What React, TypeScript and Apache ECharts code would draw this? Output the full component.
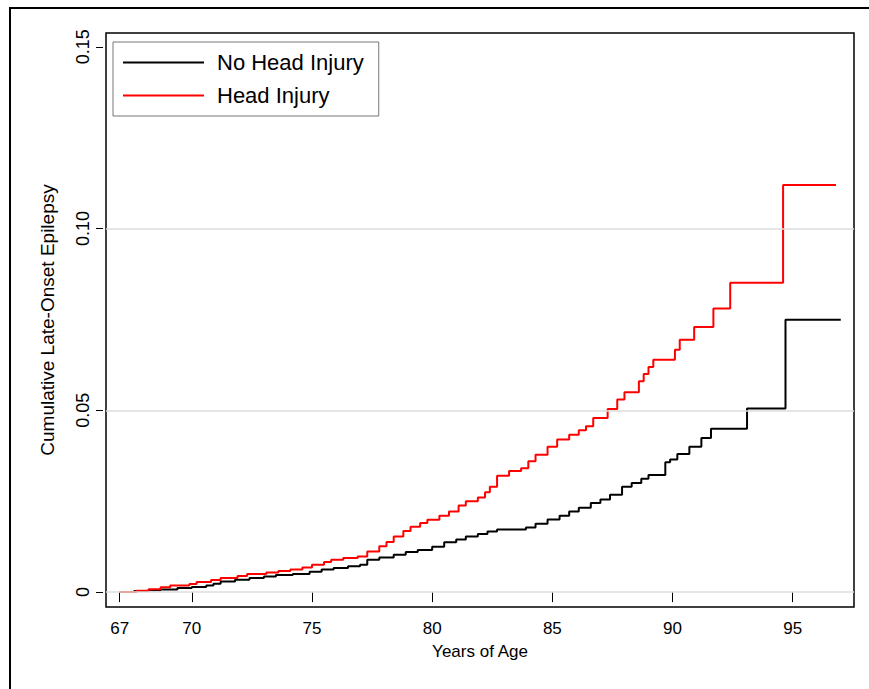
import React, { useEffect, useRef } from "react";
import * as echarts from "echarts";

const xTicks = [67, 70, 75, 80, 85, 90, 95];
const yTicks = [0, 0.05, 0.1, 0.15];
const yTickLabels = ["0", "0.05", "0.10", "0.15"];
const gridLines = [0, 0.05, 0.1];

const seriesNames = ["No Head Injury", "Head Injury"];

// [age, cumulative incidence] - value holds from this age on
const noHeadInjury: [number, number][] = [
  [67.0, 0], [67.6, 0.0003], [68.2, 0.0005], [68.7, 0.0007], [69.4, 0.0011],
  [70.0, 0.0014], [70.6, 0.0018], [70.9, 0.0023], [71.2, 0.0029], [71.8, 0.0034],
  [72.4, 0.0039], [73.0, 0.0043], [73.5, 0.0047], [74.2, 0.005], [74.9, 0.0056],
  [75.4, 0.0062], [75.9, 0.0066], [76.5, 0.0071], [77.0, 0.0075], [77.3, 0.0089],
  [77.8, 0.0095], [78.4, 0.0103], [78.9, 0.011], [79.4, 0.0116], [80.0, 0.0125],
  [80.5, 0.0137], [81.0, 0.0145], [81.4, 0.0153], [81.9, 0.016], [82.3, 0.0167],
  [82.7, 0.0172], [83.9, 0.0178], [84.3, 0.0188], [84.8, 0.02], [85.3, 0.021],
  [85.7, 0.0222], [86.1, 0.0232], [86.6, 0.0245], [87.0, 0.0255], [87.4, 0.0268],
  [87.9, 0.029], [88.3, 0.03], [88.7, 0.0312], [89.0, 0.0322], [89.7, 0.0357],
  [89.9, 0.0365], [90.2, 0.038], [90.7, 0.04], [91.2, 0.0424], [91.6, 0.0449],
  [93.1, 0.0505], [94.7, 0.0749], [97.0, 0.0749],
];

const headInjury: [number, number][] = [
  [67.0, 0], [67.7, 0.0004], [68.2, 0.0008], [68.7, 0.0013], [69.1, 0.0018],
  [69.9, 0.0022], [70.2, 0.0028], [70.8, 0.0033], [71.2, 0.0039], [71.9, 0.0044],
  [72.3, 0.005], [73.1, 0.0054], [73.6, 0.0058], [74.1, 0.0062], [74.6, 0.0068],
  [75.0, 0.0075], [75.5, 0.0083], [75.8, 0.0089], [76.3, 0.0094], [76.9, 0.0098],
  [77.3, 0.0112], [77.8, 0.0126], [78.1, 0.0138], [78.4, 0.0153], [78.8, 0.0168],
  [79.1, 0.018], [79.5, 0.019], [79.8, 0.0199], [80.3, 0.021], [80.7, 0.0222],
  [81.1, 0.0238], [81.4, 0.025], [81.9, 0.026], [82.2, 0.0275], [82.4, 0.029],
  [82.7, 0.032], [83.2, 0.0333], [83.7, 0.0341], [84.0, 0.036], [84.3, 0.0378],
  [84.8, 0.04], [85.2, 0.042], [85.7, 0.0433], [86.1, 0.0445], [86.4, 0.0456],
  [86.7, 0.0479], [87.3, 0.0504], [87.7, 0.053], [88.0, 0.055], [88.6, 0.058],
  [88.8, 0.06], [89.0, 0.0619], [89.2, 0.0639], [90.1, 0.0667], [90.3, 0.0694],
  [90.9, 0.0729], [91.7, 0.078], [92.4, 0.0851], [94.6, 0.112], [96.8, 0.112],
];

const FONT = "'Liberation Sans', Arial, Helvetica, sans-serif";

export default function App() {
  const ref = useRef<HTMLDivElement>(null);
  useEffect(() => {
    document.body.style.margin = "0";
    if (!ref.current) return;
    const chart = echarts.init(ref.current, null, { renderer: "svg" });
    chart.setOption({
      animation: false,
      backgroundColor: "#ffffff",
      textStyle: { fontFamily: FONT },
      grid: {
        left: 106,
        top: 33,
        right: 15,
        bottom: 82,
        show: true,
        borderColor: "#000",
        borderWidth: 1.5,
        backgroundColor: "#fff",
      },
      legend: {
        orient: "vertical",
        left: 113,
        top: 42,
        padding: [9, 15, 9, 10],
        itemGap: 10,
        itemWidth: 81,
        itemHeight: 2,
        icon: "rect",
        backgroundColor: "#fff",
        borderColor: "#777",
        borderWidth: 1,
        borderRadius: 0,
        data: seriesNames,
        textStyle: {
          fontFamily: FONT,
          fontSize: 22,
          lineHeight: 23,
          color: "#000",
          padding: [0, 0, 0, 8],
        },
      },
      xAxis: {
        type: "value",
        min: 66.43,
        max: 97.55,
        name: "Years of Age",
        nameLocation: "middle",
        nameGap: 36,
        nameTextStyle: { fontFamily: FONT, fontSize: 17, color: "#000" },
        axisLine: { show: false },
        axisTick: {
          show: true,
          length: 10,
          customValues: xTicks,
          lineStyle: { color: "#000", width: 1 },
        },
        axisLabel: {
          customValues: xTicks,
          fontFamily: FONT,
          fontSize: 17,
          color: "#000",
          margin: 13,
        },
        splitLine: { show: false },
      },
      yAxis: {
        type: "value",
        min: -0.0041,
        max: 0.1538,
        offset: 3,
        name: "Cumulative Late-Onset Epilepsy",
        nameLocation: "middle",
        nameRotate: 90,
        nameGap: 46,
        nameTextStyle: { fontFamily: FONT, fontSize: 19, color: "#000" },
        axisLine: { show: false },
        axisTick: {
          show: true,
          length: 7,
          customValues: yTicks,
          lineStyle: { color: "#000", width: 1 },
        },
        axisLabel: {
          customValues: yTicks,
          rotate: 90,
          fontFamily: FONT,
          fontSize: 18,
          color: "#000",
          margin: 11,
          formatter: (v: number) => {
            const i = yTicks.findIndex((t) => Math.abs(t - v) < 1e-9);
            return i >= 0 ? yTickLabels[i] : "";
          },
        },
        splitLine: { show: false },
      },
      graphic: [
        {
          type: "rect",
          shape: { x: 10, y: 8, width: 880, height: 700 },
          style: { fill: "none", stroke: "#000", lineWidth: 2 },
          silent: true,
          z: 100,
        },
      ],
      series: [
        {
          type: "line",
          name: "_grid",
          data: [[67, 0]],
          showSymbol: false,
          symbol: "none",
          lineStyle: { width: 0 },
          silent: true,
          z: 1,
          markLine: {
            silent: true,
            symbol: "none",
            label: { show: false },
            lineStyle: { color: "#dcdcdc", width: 1.5, type: "solid" },
            data: gridLines.map((v) => ({ yAxis: v })),
          },
        },
        {
          type: "line",
          name: seriesNames[0],
          data: noHeadInjury,
          step: "end",
          showSymbol: false,
          symbol: "none",
          color: "#000",
          lineStyle: { color: "#000", width: 2 },
          z: 3,
        },
        {
          type: "line",
          name: seriesNames[1],
          data: headInjury,
          step: "end",
          showSymbol: false,
          symbol: "none",
          color: "#ff0000",
          lineStyle: { color: "#ff0000", width: 2 },
          z: 4,
        },
      ],
    });
    return () => chart.dispose();
  }, []);
  return <div ref={ref} style={{ width: 869, height: 689 }} />;
}
